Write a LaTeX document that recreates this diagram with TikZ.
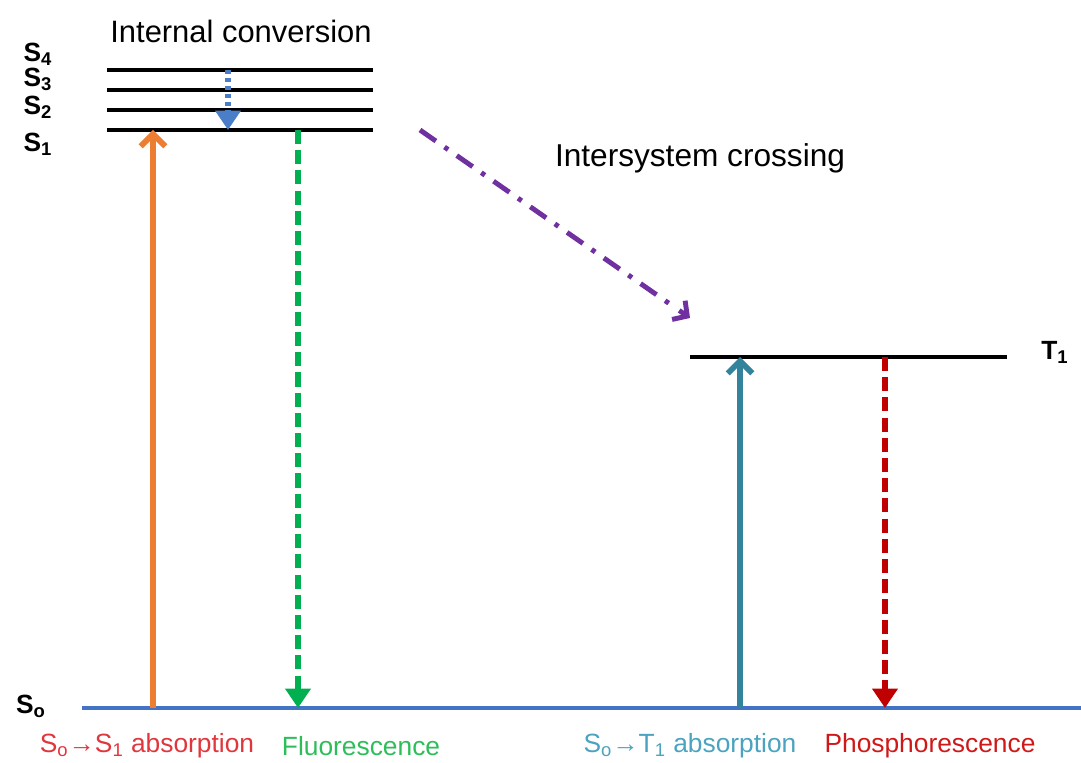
\documentclass[tikz,border=0pt]{standalone}
\usepackage{fontspec}
\setmainfont{Liberation Sans}
\usetikzlibrary{arrows.meta,positioning,calc}
\definecolor{absorbcol}{HTML}{ED7D31}
\definecolor{fluocol}{HTML}{00B050}
\definecolor{iccol}{HTML}{4A7EC8}
\definecolor{isccol}{HTML}{7030A0}
\definecolor{tabscol}{HTML}{31849B}
\definecolor{phoscol}{HTML}{C00000}
\definecolor{groundcol}{HTML}{4472C4}
\definecolor{lblred}{HTML}{E0363C}
\definecolor{lblgreen}{HTML}{2DBE5A}
\definecolor{lblteal}{HTML}{4BA3BF}
\definecolor{lbldark}{HTML}{D01818}
\tikzset{
  level/.style={line width=2.1pt,black},
  statelbl/.style={font=\fontsize{15}{15}\selectfont\bfseries,inner sep=0pt},
  proclbl/.style={font=\fontsize{15}{15}\selectfont,inner sep=0pt},
  uparrow/.style={line width=3.3pt,-{Straight Barb[length=7pt,width=14pt,line width=3.3pt]}},
  downarrow/.style={line width=3.2pt,dash pattern=on 8pt off 3.5pt,-{Triangle[length=11pt,width=14pt]}}
}
\begin{document}
\begin{tikzpicture}[x=0.02cm,y=-0.02cm]
\useasboundingbox (0,0) rectangle (1081,763);
% singlet levels
\draw[level] (107,70) coordinate (s4l) -- (373,70) coordinate (s4r);
\draw[level] (107,90) coordinate (s3l) -- (373,90) coordinate (s3r);
\draw[level] (107,110) coordinate (s2l) -- (373,110) coordinate (s2r);
\draw[level] (107,130) coordinate (s1l) -- (373,130) coordinate (s1r);
\draw[level] (690,357) coordinate (t1l) -- (1007,357) coordinate (t1r);
\draw[groundcol,line width=2pt] (82,708) coordinate (s0l) -- (1081,708) coordinate (s0r);
\node[statelbl] (s4) at (38,54) {S\textsubscript{4}};
\node[statelbl] (s3) at (38,79) {S\textsubscript{3}};
\node[statelbl] (s2) at (38,107) {S\textsubscript{2}};
\node[statelbl] (s1) at (38,144) {S\textsubscript{1}};
\node[statelbl] (s0) at (31,706) {S\textsubscript{o}};
\node[statelbl] (t1) at (1055,352) {T\textsubscript{1}};
\node[font=\fontsize{17.6}{17.6}\selectfont] (ic) at (241,31) {Internal conversion};
\node[font=\fontsize{18}{18}\selectfont] (isc) at (700,158) {Intersystem crossing};
% transitions
\coordinate (absb) at (153,708);
\coordinate (abst) at (153,130);
\coordinate (fluot) at (298,130);
\coordinate (fluob) at (298,708);
\coordinate (ict) at (228,70);
\coordinate (icb) at (228,130);
\coordinate (isct) at (420,130);
\coordinate (iscb) at (690,318);
\coordinate (tabsb) at (740,708);
\coordinate (tabst) at (740,357);
\coordinate (phost) at (885,357);
\coordinate (phosb) at (885,708);
\draw[uparrow,absorbcol] (absb) -- (abst);
\draw[downarrow,fluocol] (fluot) -- (fluob);
\draw[iccol,line width=3pt,dash pattern=on 2.5pt off 2pt,-{Triangle[length=11pt,width=14pt]}] (ict) -- (icb);
\draw[isccol,line width=2.8pt,dash pattern=on 11pt off 6pt on 2.5pt off 6pt] (isct) -- ($(isct)!0.93!(iscb)$);
\draw[isccol,line width=2.8pt,-{Straight Barb[length=6pt,width=13pt,line width=2.8pt]}] ($(isct)!0.96!(iscb)$) -- (iscb);
\draw[uparrow,tabscol] (tabsb) -- (tabst);
\draw[downarrow,phoscol] (phost) -- (phosb);
\node[proclbl,lblred] (absl) at (147,746) {S\textsubscript{o}→S\textsubscript{1} absorption};
\node[proclbl,lblgreen] (fluol) at (361,746) {Fluorescence};
\node[proclbl,lblteal] (tabsl) at (690,746) {S\textsubscript{o}→T\textsubscript{1} absorption};
\node[proclbl,lbldark] (phosl) at (930,746) {Phosphorescence};
\end{tikzpicture}
\end{document}
